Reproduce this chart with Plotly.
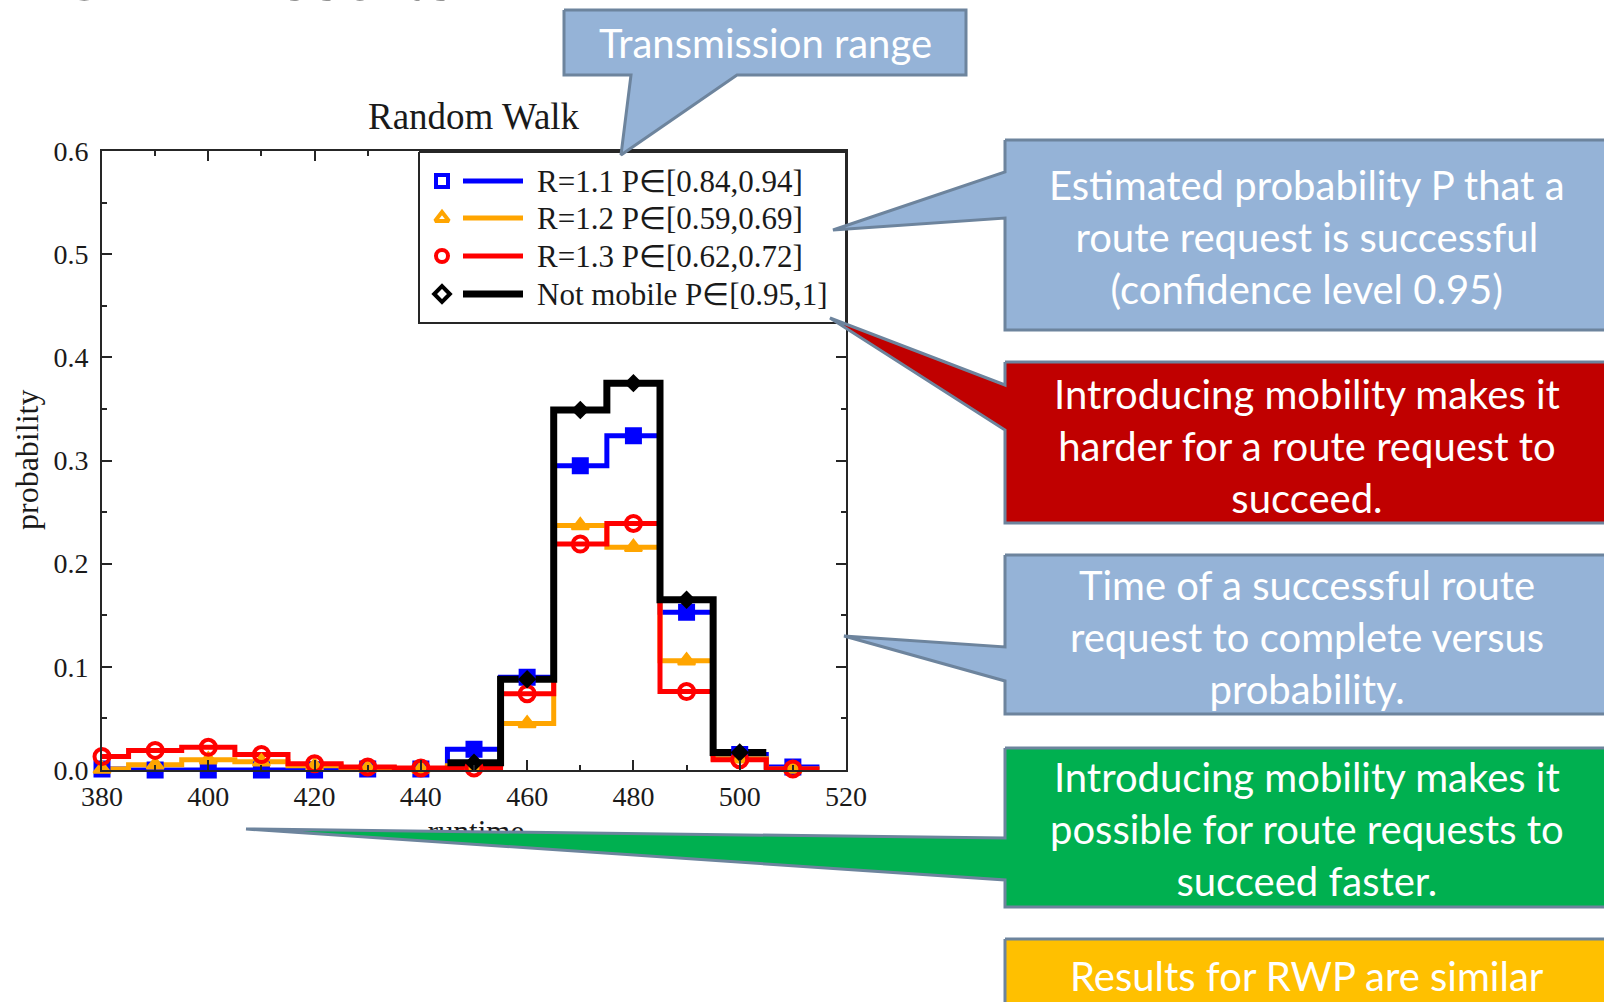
import plotly.graph_objects as go

# ---- histogram data: route-request completion time vs probability ----
runtime_bins = [380, 390, 400, 410, 420, 430, 440, 450, 460, 470, 480, 490, 500, 510]
bin_width = 10

prob_r11 = [0.001, 0.000, 0.000, 0.000, 0.000, 0.001, 0.001, 0.020, 0.090, 0.295, 0.324, 0.153, 0.015, 0.003]
prob_r12 = [0.001, 0.005, 0.010, 0.008, 0.004, 0.002, 0.001, 0.004, 0.045, 0.237, 0.216, 0.106, 0.011, 0.001]
prob_r13 = [0.013, 0.019, 0.022, 0.015, 0.006, 0.003, 0.002, 0.002, 0.074, 0.219, 0.239, 0.076, 0.010, 0.001]
prob_static = [None, None, None, None, None, None, None, 0.007, 0.088, 0.349, 0.375, 0.165, 0.017, None]

series_labels = ["R=1.1 P\u2208[0.84,0.94]", "R=1.2 P\u2208[0.59,0.69]",
                 "R=1.3 P\u2208[0.62,0.72]", "Not mobile P\u2208[0.95,1]"]
series_values = [prob_r11, prob_r12, prob_r13, prob_static]

x_ticks = [380, 400, 420, 440, 460, 480, 500, 520]
y_ticks = [0.0, 0.1, 0.2, 0.3, 0.4, 0.5, 0.6]

chart_title = "Random Walk"
x_title = "runtime"
y_title = "probability"
slide_title = "AODV Results"

callout_texts = [
    "Transmission range",
    "Estimated probability P that a<br>route request is successful<br>(confidence level 0.95)",
    "Introducing mobility makes it<br>harder for a route request to<br>succeed.",
    "Time of a successful route<br>request to complete versus<br>probability.",
    "Introducing mobility makes it<br>possible for route requests to<br>succeed faster.",
    "Results for RWP are similar",
]

# ---- styling ----
W, H = 1604, 1002
colors = ["#0000FF", "#FFA500", "#FF0000", "#000000"]
line_widths = [5, 5, 5, 7]
data_symbols = ["square", "triangle-up", "circle-open", "diamond"]
data_sizes = [15, 15, 15, 12]
data_edge = [2, 2, 4, 2]
legend_symbols = ["square-open", "triangle-up-open", "circle-open", "diamond-open"]
serif = "Liberation Serif, Times New Roman, serif"
sans = "Lato, Open Sans, sans-serif"
ink = "#1a1a1a"
frame = "#262626"
callout_border = "#6d849d"
callout_fills = ["#95B3D7", "#95B3D7", "#C00000", "#95B3D7", "#00B050", "#FFC000"]


def step_xy(centers, values, width):
    pts = [(c, v) for c, v in zip(centers, values) if v is not None]
    xs = [c - width / 2 for c, _ in pts] + [pts[-1][0] + width / 2]
    ys = [v for _, v in pts] + [pts[-1][1]]
    return xs, ys


fig = go.Figure()

# step outlines and bin markers
for vals, col, lw in zip(series_values, colors, line_widths):
    xs, ys = step_xy(runtime_bins, vals, bin_width)
    fig.add_trace(go.Scatter(x=xs, y=ys, mode="lines", line=dict(color=col, width=lw, shape="hv"),
                             xaxis="x", yaxis="y", hoverinfo="skip"))
for vals, col, sym, sz, ew in zip(series_values, colors, data_symbols, data_sizes, data_edge):
    cx = [c for c, v in zip(runtime_bins, vals) if v is not None]
    cy = [v for v in vals if v is not None]
    fig.add_trace(go.Scatter(x=cx, y=cy, mode="markers", cliponaxis=False,
                             marker=dict(symbol=sym, size=sz, color=col, line=dict(color=col, width=ew)),
                             xaxis="x", yaxis="y"))

# ---- overlay layer in page pixels: legend, axis label and callouts ----
leg_box = (419, 152, 846, 323)
leg_rows = [181, 218, 256, 294]
fig.add_trace(go.Scatter(x=[leg_box[0], leg_box[2], leg_box[2], leg_box[0], leg_box[0]],
                         y=[leg_box[1], leg_box[1], leg_box[3], leg_box[3], leg_box[1]],
                         mode="lines", fill="toself", fillcolor="white",
                         line=dict(color=frame, width=2), xaxis="x2", yaxis="y2"))
for row, col, lw, sym in zip(leg_rows, colors, line_widths, legend_symbols):
    fig.add_trace(go.Scatter(x=[463, 523], y=[row, row], mode="lines",
                             line=dict(color=col, width=lw), xaxis="x2", yaxis="y2"))
    fig.add_trace(go.Scatter(x=[442], y=[row], mode="markers",
                             marker=dict(symbol=sym, size=12, color=col, line=dict(color=col, width=4)),
                             xaxis="x2", yaxis="y2"))

fig.add_trace(go.Scatter(x=[476], y=[834], mode="text", text=[x_title], cliponaxis=False,
                         textfont=dict(family=serif, size=31, color=ink), xaxis="x2", yaxis="y2"))


def callout_shape(box, side, base_a, base_b, tip):
    x0, y0, x1, y1 = box
    if side == "left":
        xs = [x0, x1, x1, x0, x0, tip[0], x0, x0]
        ys = [y0, y0, y1, y1, base_b, tip[1], base_a, y0]
    else:  # pointer hanging from the bottom edge
        xs = [x0, x1, x1, base_b, tip[0], base_a, x0, x0]
        ys = [y0, y0, y1, y1, tip[1], y1, y1, y0]
    return xs, ys


callouts = [
    ((564, 10, 966, 75), "bottom", 631, 737, (621, 155)),
    ((1005, 140, 1625, 330), "left", 172, 218, (833, 230)),
    ((1005, 362, 1625, 523), "left", 385, 430, (830, 318)),
    ((1005, 555, 1625, 714), "left", 647, 681, (844, 636)),
    ((1005, 748, 1625, 907), "left", 838, 880, (246, 829)),
    ((1005, 939, 1625, 1030), "left", 960, 970, (1005, 965)),
]
for (box, side, a, b, tip), fill in zip(callouts, callout_fills):
    xs, ys = callout_shape(box, side, a, b, tip)
    fig.add_trace(go.Scatter(x=xs, y=ys, mode="lines", fill="toself", fillcolor=fill,
                             line=dict(color=callout_border, width=3), xaxis="x2", yaxis="y2"))

annotations = []
callout_centers = [(765, 43), (1307, 237), (1307, 446), (1307, 637), (1307, 829), (1307, 976)]
for txt, (cx, cy) in zip(callout_texts, callout_centers):
    annotations.append(dict(x=cx, y=cy, xref="x2", yref="y2", text=txt, showarrow=False,
                            font=dict(family=sans, size=40, color="white"), align="center"))
for row, lab in zip(leg_rows, series_labels):
    annotations.append(dict(x=535, y=row, xref="x2", yref="y2", text=lab, showarrow=False,
                            xanchor="left", font=dict(family=serif, size=31, color=ink)))
annotations.append(dict(x=474, y=116, xref="x2", yref="y2", text=chart_title, showarrow=False,
                        font=dict(family=serif, size=37, color=ink)))
annotations.append(dict(x=27, y=460, xref="x2", yref="y2", text=y_title, showarrow=False,
                        textangle=-90, font=dict(family=serif, size=32, color=ink)))
annotations.append(dict(x=6, y=17.5, xref="x2", yref="y2", text=slide_title,
                        showarrow=False, xanchor="left", yanchor="bottom",
                        font=dict(family=sans, size=72, color="#2b2b2b")))

axis_common = dict(showline=True, linewidth=2, linecolor=frame, mirror="allticks",
                   ticks="inside", ticklen=10, tickwidth=2, tickcolor=frame,
                   showgrid=False, zeroline=False, fixedrange=True, automargin=False,
                   tickfont=dict(family=serif, size=28, color=ink))

fig.update_layout(
    width=W, height=H, autosize=False,
    margin=dict(l=0, r=0, t=0, b=0, pad=0, autoexpand=False),
    paper_bgcolor="white", plot_bgcolor="rgba(0,0,0,0)",
    showlegend=False,
    xaxis=dict(domain=[102 / W, 846 / W], range=[380, 520], tickvals=x_ticks,
               minor=dict(dtick=10, tick0=380, ticks="inside", ticklen=5, tickwidth=2,
                          tickcolor=frame, showgrid=False),
               anchor="y", **axis_common),
    yaxis=dict(domain=[1 - 770 / H, 1 - 151 / H], range=[0, 0.6], tickvals=y_ticks,
               tickformat=".1f", ticklabelstandoff=6,
               minor=dict(dtick=0.05, tick0=0, ticks="inside", ticklen=5, tickwidth=2,
                          tickcolor=frame, showgrid=False),
               anchor="x", **axis_common),
    xaxis2=dict(domain=[0, 1], range=[0, W], visible=False, anchor="y2", fixedrange=True,
                automargin=False),
    yaxis2=dict(domain=[0, 1], range=[H, 0], visible=False, anchor="x2", fixedrange=True,
                automargin=False),
    annotations=annotations,
)

fig.write_html("out.html")
